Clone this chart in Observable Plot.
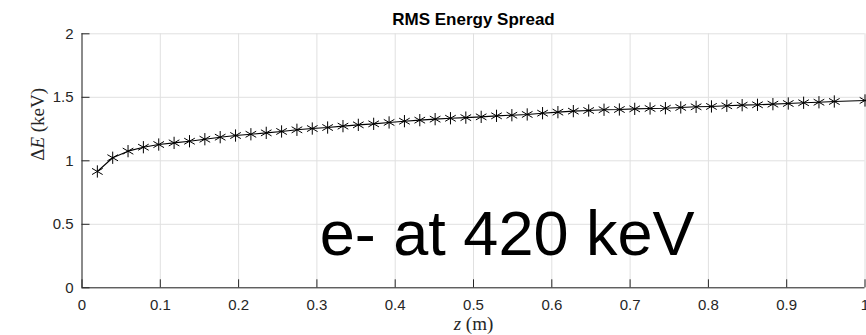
<!DOCTYPE html>
<html>
<head>
<meta charset="utf-8">
<script src="https://cdn.jsdelivr.net/npm/d3@7"></script>
<script src="https://cdn.jsdelivr.net/npm/@observablehq/plot@0.6"></script>
<style>
  html, body { margin: 0; padding: 0; background: #fff; }
  svg { display: block; }
</style>
</head>
<body>
<div id="chart"></div>
<script>
const titleText = "RMS Energy Spread";
const annotationText = "e- at 420 keV";
const xLabel = "z (m)";
const yLabel = "ΔE (keV)";
const xTicks = [0, 0.1, 0.2, 0.3, 0.4, 0.5, 0.6, 0.7, 0.8, 0.9, 1];
const xTickLabels = ["0", "0.1", "0.2", "0.3", "0.4", "0.5", "0.6", "0.7", "0.8", "0.9", "1"];
const yTicks = [0, 0.5, 1, 1.5, 2];
const yTickLabels = ["0", "0.5", "1", "1.5", "2"];

const z = [0.0196, 0.0392, 0.0588, 0.0784, 0.0980, 0.1176, 0.1373, 0.1569, 0.1765, 0.1961,
  0.2157, 0.2353, 0.2549, 0.2745, 0.2941, 0.3137, 0.3333, 0.3529, 0.3725, 0.3922,
  0.4118, 0.4314, 0.4510, 0.4706, 0.4902, 0.5098, 0.5294, 0.5490, 0.5686, 0.5882,
  0.6078, 0.6275, 0.6471, 0.6667, 0.6863, 0.7059, 0.7255, 0.7451, 0.7647, 0.7843,
  0.8039, 0.8235, 0.8431, 0.8627, 0.8824, 0.9020, 0.9216, 0.9412, 0.9608, 1.0];
const dE = [0.916, 1.024, 1.076, 1.107, 1.128, 1.141, 1.154, 1.170, 1.186, 1.199,
  1.209, 1.220, 1.231, 1.244, 1.254, 1.262, 1.273, 1.283, 1.291, 1.302,
  1.312, 1.320, 1.328, 1.335, 1.340, 1.346, 1.354, 1.359, 1.365, 1.375,
  1.383, 1.391, 1.396, 1.402, 1.404, 1.409, 1.412, 1.414, 1.420, 1.425,
  1.428, 1.433, 1.438, 1.441, 1.446, 1.451, 1.457, 1.461, 1.467, 1.475];

const data = z.map((v, i) => ({z: v, e: dE[i]}));
const axisColor = "#262626";
const gridColor = "#e0e0e0";

const chart = Plot.plot({
  width: 866,
  height: 335,
  marginLeft: 81.5,
  marginRight: 1.5,
  marginTop: 33.3,
  marginBottom: 47.7,
  style: {fontFamily: "'Liberation Sans', Arial, sans-serif", fontSize: "15px", color: axisColor, background: "#fff"},
  x: {domain: [0, 1]},
  y: {domain: [0, 2]},
  marks: [
    Plot.gridX(xTicks, {stroke: gridColor, strokeOpacity: 1}),
    Plot.gridY(yTicks, {stroke: gridColor, strokeOpacity: 1}),
    Plot.axisX(xTicks, {anchor: "bottom", tickSize: -8, tickPadding: 20, tickFormat: (d, i) => xTickLabels[i], label: null, stroke: axisColor, fill: axisColor, fontSize: 15}),
    Plot.axisY(yTicks, {anchor: "left", tickSize: -8, tickPadding: 16.5, tickFormat: (d, i) => yTickLabels[i], label: null, stroke: axisColor, fill: axisColor, fontSize: 15}),
    Plot.ruleX([0], {stroke: axisColor}),
    Plot.ruleY([0], {stroke: axisColor}),
    Plot.line(data, {x: "z", y: "e", stroke: "black", strokeWidth: 1.1}),
    Plot.dot(data, {x: "z", y: "e", symbol: "asterisk", r: 5.8, stroke: "black", strokeWidth: 1}),
    Plot.text([annotationText], {x: 0.543, y: 0.26, text: d => d, lineAnchor: "bottom", fontSize: 63, fill: "black", fontFamily: "'Liberation Sans', Arial, sans-serif"}),
    Plot.text([titleText], {frameAnchor: "top", dy: -8.5, text: d => d, lineAnchor: "bottom", fontSize: 17, fontWeight: "bold", fill: "black"}),
    Plot.text([xLabel], {frameAnchor: "bottom", dy: 29, text: d => d, lineAnchor: "top", fontSize: 19, fill: axisColor, fontFamily: "'Liberation Serif', 'DejaVu Serif', serif", className: "xlab"}),
    Plot.text([yLabel], {frameAnchor: "left", dx: -44, rotate: -90, text: d => d, lineAnchor: "middle", fontSize: 19, fill: axisColor, fontFamily: "'Liberation Serif', 'DejaVu Serif', serif", className: "ylab"})
  ]
});
document.getElementById("chart").appendChild(chart);

// italicize the math variables in the axis labels
function italicize(cls, variable, rest) {
  chart.querySelectorAll("g." + cls + " text").forEach(t => {
    t.textContent = "";
    const ns = "http://www.w3.org/2000/svg";
    const a = document.createElementNS(ns, "tspan");
    a.textContent = variable.plain;
    t.appendChild(a);
    if (variable.italic) {
      const b = document.createElementNS(ns, "tspan");
      b.setAttribute("font-style", "italic");
      b.textContent = variable.italic;
      t.appendChild(b);
    }
    const c = document.createElementNS(ns, "tspan");
    c.textContent = rest;
    t.appendChild(c);
  });
}
italicize("xlab", {plain: "", italic: "z"}, " (m)");
italicize("ylab", {plain: "Δ", italic: "E"}, " (keV)");
</script>
</body>
</html>
